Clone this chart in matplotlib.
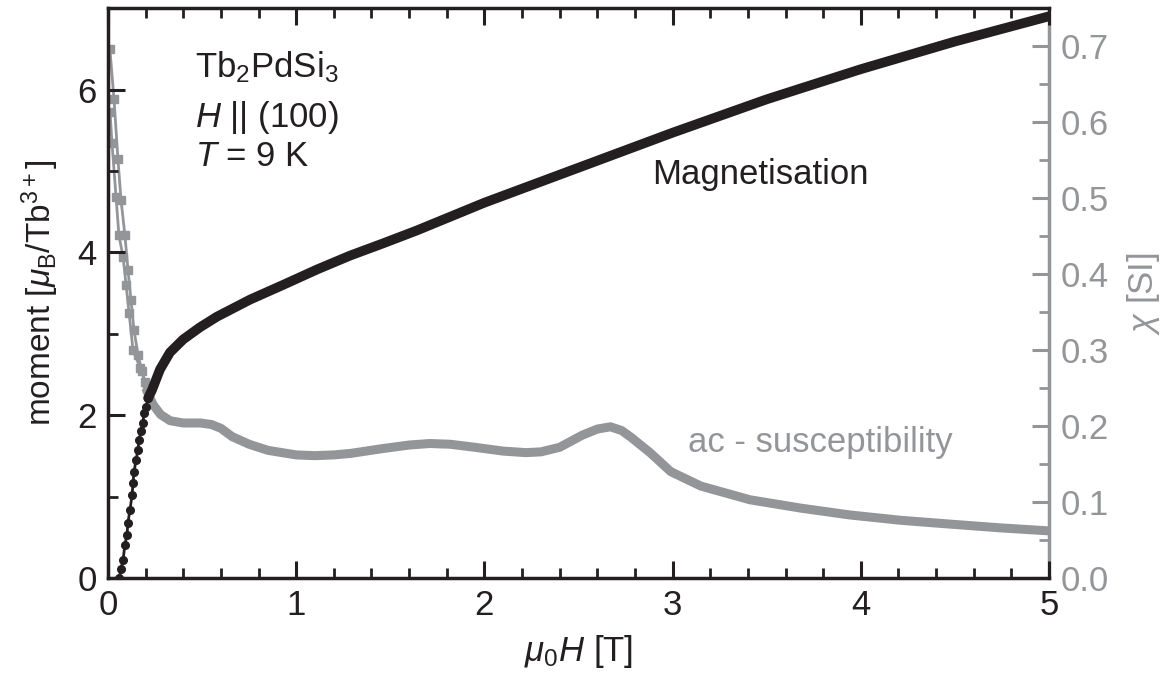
import matplotlib
matplotlib.use("Agg")
import matplotlib.pyplot as plt
from matplotlib.ticker import MultipleLocator, FormatStrFormatter

plt.rcParams['font.family'] = ['Liberation Sans', 'DejaVu Sans']
plt.rcParams['mathtext.fontset'] = 'custom'
plt.rcParams['mathtext.rm'] = 'Liberation Sans'
plt.rcParams['mathtext.it'] = 'Liberation Sans:italic'
plt.rcParams['mathtext.bf'] = 'Liberation Sans:bold'

# ---- Magnetisation: low-field points (dots) ----
m_low_field = [0.060, 0.069, 0.080, 0.090, 0.101, 0.106, 0.117, 0.128, 0.133, 0.138,
               0.149, 0.159, 0.165, 0.175, 0.186, 0.191, 0.202, 0.213]
m_low_moment = [0.00, 0.11, 0.22, 0.41, 0.53, 0.68, 0.84, 1.02, 1.17, 1.30,
                1.45, 1.57, 1.70, 1.80, 1.91, 2.03, 2.10, 2.21]

# ---- Magnetisation: dense high-field data (thick line) ----
m_high_field = [0.213, 0.234, 0.276, 0.329, 0.399, 0.489, 0.579, 0.755, 0.930, 1.111,
                1.286, 1.461, 1.642, 2.0, 2.5, 3.0, 3.5, 4.0, 4.5, 5.0]
m_high_moment = [2.21, 2.31, 2.56, 2.77, 2.93, 3.08, 3.21, 3.42, 3.60, 3.79,
                 3.96, 4.11, 4.27, 4.61, 5.04, 5.47, 5.88, 6.25, 6.59, 6.90]

# ---- ac susceptibility: low-field branches with square markers ----
chi_a_field = [0.010, 0.032, 0.053, 0.069, 0.090, 0.106, 0.122, 0.138, 0.159, 0.181, 0.207]
chi_a_value = [0.696, 0.630, 0.551, 0.498, 0.451, 0.406, 0.366, 0.327, 0.294, 0.272, 0.250]
chi_b_field = [0.011, 0.021, 0.043, 0.058, 0.080, 0.096, 0.112, 0.133, 0.170, 0.197]
chi_b_value = [0.613, 0.573, 0.501, 0.451, 0.423, 0.386, 0.349, 0.300, 0.277, 0.258]

# ---- ac susceptibility: dense data (thick line) ----
chi_field = [0.20, 0.24, 0.28, 0.33, 0.40, 0.49, 0.55, 0.60, 0.66, 0.75, 0.85, 1.00,
             1.10, 1.20, 1.29, 1.45, 1.60, 1.71, 1.82, 1.95, 2.10, 2.22, 2.30, 2.40,
             2.52, 2.60, 2.67, 2.73, 2.78, 2.88, 2.99, 3.15, 3.41, 3.68, 3.94, 4.21,
             4.47, 4.74, 5.00]
chi_value = [0.250, 0.228, 0.215, 0.207, 0.204, 0.204, 0.202, 0.197, 0.186, 0.176, 0.168, 0.162,
             0.161, 0.162, 0.164, 0.170, 0.175, 0.177, 0.176, 0.172, 0.167, 0.165, 0.166, 0.172,
             0.188, 0.196, 0.199, 0.194, 0.185, 0.165, 0.140, 0.121, 0.103, 0.092, 0.083, 0.076,
             0.071, 0.066, 0.062]

BLACK = '#231f20'
GREY = '#939598'
FS = 25

fig = plt.figure(figsize=(11.7, 6.78), dpi=100)
ax = fig.add_axes([0.0923, 0.1475, 0.8043, 0.8405])
ax2 = ax.twinx()

# susceptibility on right axis
ax2.plot(chi_field, chi_value, color=GREY, lw=6.5, solid_capstyle='butt', zorder=2)
ax2.plot(chi_a_field, chi_a_value, color=GREY, lw=2, marker='s', ms=5.5, zorder=2)
ax2.plot(chi_b_field, chi_b_value, color=GREY, lw=2, marker='s', ms=5.5, zorder=2)

# magnetisation on left axis, drawn above the susceptibility
ax.set_zorder(ax2.get_zorder() + 1)
ax.patch.set_visible(False)
ax.plot(m_high_field, m_high_moment, color=BLACK, lw=7, solid_capstyle='round')
ax.plot(m_low_field, m_low_moment, color=BLACK, lw=2, marker='o', ms=5.5)

ax.set_xlim(0, 5)
ax.set_ylim(0, 7)
ax2.set_ylim(0, 0.75)

ax.xaxis.set_major_locator(MultipleLocator(1))
ax.xaxis.set_minor_locator(MultipleLocator(0.2))
ax.yaxis.set_major_locator(MultipleLocator(2))
ax.yaxis.set_minor_locator(MultipleLocator(1))
ax2.yaxis.set_major_locator(MultipleLocator(0.1))
ax2.yaxis.set_minor_locator(MultipleLocator(0.05))
ax2.yaxis.set_major_formatter(FormatStrFormatter('%.1f'))

ax.tick_params(axis='both', which='major', direction='in', length=12, width=2.2,
               labelsize=FS, colors=BLACK, top=True, right=False, pad=8)
ax.tick_params(axis='both', which='minor', direction='in', length=7, width=2,
               top=True, right=False, colors=BLACK)
ax2.tick_params(axis='y', which='major', direction='in', length=12, width=2.2,
                labelsize=FS, colors=GREY, pad=8)
ax2.tick_params(axis='y', which='minor', direction='in', length=7, width=2, colors=GREY)

for s in ['left', 'bottom', 'top']:
    ax.spines[s].set_linewidth(2.5)
    ax.spines[s].set_color(BLACK)
ax.spines['right'].set_visible(False)
for s in ['left', 'bottom', 'top']:
    ax2.spines[s].set_visible(False)
ax2.spines['right'].set_linewidth(2.5)
ax2.spines['right'].set_color(GREY)

ax.set_xlabel(r'$\mu_{\rm 0}H$ [T]', fontsize=FS, color=BLACK, labelpad=8)
ax.set_ylabel(r'moment [$\mu_{\rm B}$/Tb$^{\rm 3+}$]', fontsize=24, color=BLACK, labelpad=12)
ax2.set_ylabel(r'$\chi$ [SI]', fontsize=FS, color=GREY, rotation=90, labelpad=12)

ax.text(0.46, 6.27, r'Tb$_{\rm 2}$PdSi$_{\rm 3}$', fontsize=FS, color=BLACK, va='center')
ax.text(0.46, 5.66, r'$H$ || (100)', fontsize=FS, color=BLACK, va='center')
ax.text(0.46, 5.18, r'$T$ = 9 K', fontsize=FS, color=BLACK, va='center')
ax.text(2.89, 4.96, 'Magnetisation', fontsize=FS, color=BLACK, va='center')
ax2.text(3.08, 0.178, 'ac - susceptibility', fontsize=FS, color=GREY, va='center')

fig.savefig('out.png', dpi=100)
